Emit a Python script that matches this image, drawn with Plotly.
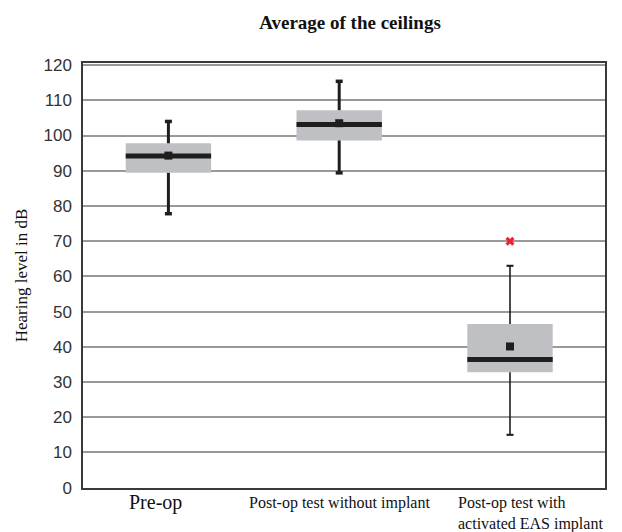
import plotly.graph_objects as go

categories = ["Pre-op", "Post-op test without implant", "Post-op test with<br>activated EAS implant"]
q1 = [89.4, 98.6, 32.8]
median = [94.2, 103.1, 36.4]
q3 = [97.8, 107.2, 46.5]
lower = [77.8, 89.4, 15.0]
upper = [104.0, 115.4, 63.0]
mean = [94.3, 103.5, 40.1]
outlier_cat = [categories[2]]
outlier_val = [70.0]
y_ticks = [0, 10, 20, 30, 40, 50, 60, 70, 80, 90, 100, 110, 120]

whisker_w = [3, 3, 1.6]
DARK = "#1e1e1e"

fig = go.Figure()

# boxes
fig.add_trace(go.Bar(
    x=categories, y=[b - a for a, b in zip(q1, q3)], base=q1,
    width=0.5, marker=dict(color="#bfc0c4", line=dict(width=0)),
    showlegend=False, hoverinfo="skip"))

# whiskers (outside the box only) and caps
for i, c in enumerate(categories):
    fig.add_trace(go.Scatter(
        x=[c, c, None, c, c], y=[q3[i], upper[i], None, lower[i], q1[i]],
        mode="lines", line=dict(color=DARK, width=whisker_w[i]),
        showlegend=False, hoverinfo="skip"))
    fig.add_trace(go.Scatter(
        x=[c, c], y=[upper[i], lower[i]], mode="markers",
        marker=dict(symbol="line-ew", size=5, line=dict(width=whisker_w[i] + 0.5, color=DARK)),
        showlegend=False, hoverinfo="skip"))

# medians
fig.add_trace(go.Scatter(
    x=categories, y=median, mode="markers",
    marker=dict(symbol="line-ew", size=61, line=dict(width=5, color=DARK)),
    showlegend=False, hoverinfo="skip"))

# means
fig.add_trace(go.Scatter(
    x=categories, y=mean, mode="markers",
    marker=dict(symbol="square", size=8, color=DARK),
    showlegend=False, hoverinfo="skip"))

# outlier
fig.add_trace(go.Scatter(
    x=outlier_cat, y=outlier_val, mode="markers",
    marker=dict(symbol="x", size=8, color="#ee2233", line=dict(width=0)),
    showlegend=False, hoverinfo="skip"))

# page body has an 8px margin: shrink figure accordingly
fig.update_layout(
    width=614, height=524,
    margin=dict(l=75, r=17, t=55, b=44),
    paper_bgcolor="white", plot_bgcolor="white",
    title=dict(text="<b>Average of the ceilings</b>", x=0.557, xanchor="center",
               y=0.973, yanchor="middle",
               font=dict(family="Liberation Serif", size=19, color="#111")),
)

fig.update_xaxes(
    type="category", categoryorder="array", categoryarray=categories,
    showticklabels=False, showgrid=False,
    showline=True, mirror=True, linecolor="#3a3a3a", linewidth=1.5,
)

fig.update_yaxes(
    range=[-0.1, 120.6], tickvals=y_ticks,
    tickfont=dict(family="Liberation Sans", size=17, color="#333"),
    showgrid=True, gridcolor="#999999", gridwidth=1.5, zeroline=False,
    showline=True, mirror=True, linecolor="#3a3a3a", linewidth=1.5,
    ticks="", ticklabelstandoff=6,
    title=dict(text="Hearing level in dB", standoff=12,
               font=dict(family="Liberation Serif", size=17, color="#111")),
)

label_sizes = [20, 16, 16]
label_shift = [-13, 0, -54]
label_yshift = [-1, -4, -4]
label_align = ["center", "center", "left"]
label_anchor = ["center", "center", "left"]
for i, c in enumerate(categories):
    fig.add_annotation(
        x=c, y=0, yref="paper", xref="x", text=c, showarrow=False,
        xanchor=label_anchor[i], yanchor="top", align=label_align[i],
        xshift=label_shift[i], yshift=label_yshift[i],
        font=dict(family="Liberation Serif", size=label_sizes[i], color="#111"))

fig.write_html("out.html")
